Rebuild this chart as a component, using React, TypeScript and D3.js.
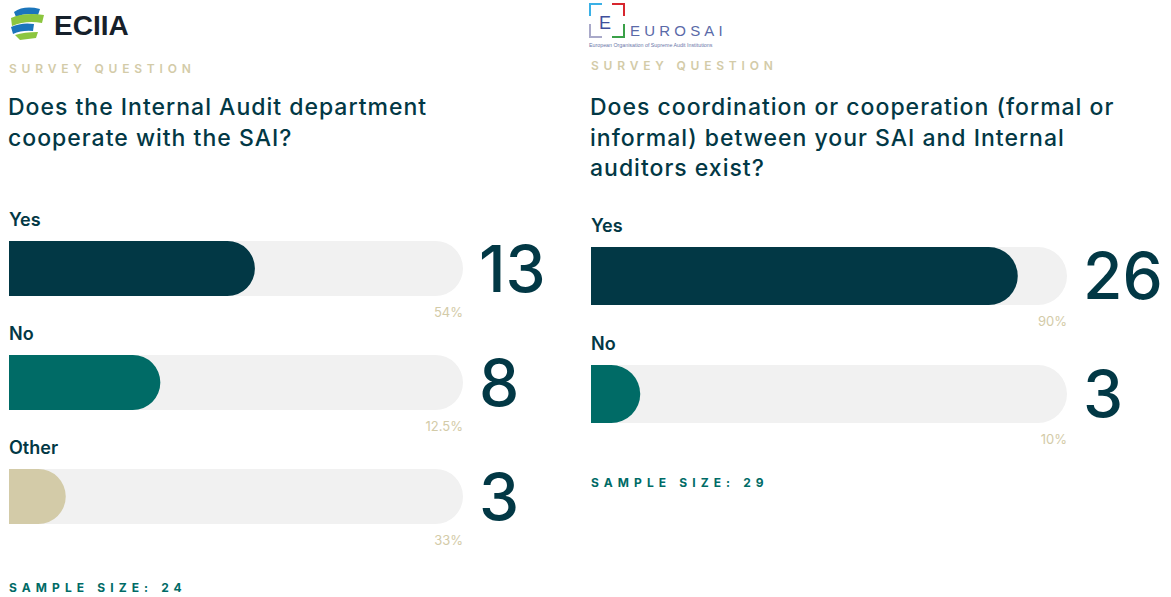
import * as d3 from "d3";

// left panel (ECIIA)
const eciiaCategories = ["Yes", "No", "Other"];
const eciiaCounts = [13, 8, 3];
const eciiaPctLabels = ["54%", "12.5%", "33%"];
const eciiaSample = 24;
const eciiaTitle = ["Does the Internal Audit department", "cooperate with the SAI?"];

// right panel (EUROSAI)
const eurosaiCategories = ["Yes", "No"];
const eurosaiCounts = [26, 3];
const eurosaiPctLabels = ["90%", "10%"];
const eurosaiSample = 29;
const eurosaiTitle = [
  "Does coordination or cooperation (formal or",
  "informal) between your SAI and Internal",
  "auditors exist?",
];

const DARK = "#023845";
const TEAL = "#006b66";
const BEIGE = "#d3cba8";
const TRACK = "#f1f1f1";
const barColors = [DARK, TEAL, BEIGE];
const FONT = "Inter, 'Noto Sans', sans-serif";

function barPath(x0: number, x1: number, y: number, h: number) {
  const r = h / 2;
  const xr = Math.max(x0, x1 - r);
  return `M${x0},${y}L${xr},${y}A${r},${r} 0 0 1 ${xr},${y + h}L${x0},${y + h}Z`;
}

interface PanelProps {
  left: number;
  right: number;
  titleY: number;
  titleLines: string[];
  surveyY: number;
  firstLabelY: number;
  rowStep: number;
  barH: number;
  categories: string[];
  counts: number[];
  pcts: string[];
  sample: number;
  sampleY: number;
}

function Panel(p: PanelProps) {
  const x = d3.scaleLinear().domain([0, p.sample]).range([p.left, p.right]);
  const rows = d3
    .scaleBand<string>()
    .domain(p.categories)
    .range([p.firstLabelY, p.firstLabelY + p.rowStep * p.categories.length])
    .padding(0);
  return (
    <g>
      <text x={p.left} y={p.surveyY} fontFamily={FONT} fontSize={12} fontWeight={600}
        letterSpacing={4.8} fill={BEIGE}>SURVEY QUESTION</text>
      {p.titleLines.map((t, i) => (
        <text key={t} x={p.left - 1} y={p.titleY + i * 30.5} fontFamily={FONT} fontSize={23}
          fontWeight={500} letterSpacing={1} fill={DARK}>{t}</text>
      ))}
      {p.categories.map((c, i) => {
        const y0 = rows(c)!;
        const barY = y0 + 21;
        return (
          <g key={c}>
            <text x={p.left} y={y0 + 6} fontFamily={FONT} fontSize={18} fontWeight={600} fill={DARK}>{c}</text>
            <path d={barPath(x(0), x(p.sample), barY, p.barH)} fill={TRACK} />
            <path d={barPath(x(0), x(p.counts[i]), barY, p.barH)} fill={barColors[i]} />
            <text x={x(p.sample)} y={barY + p.barH + 21} textAnchor="end" fontFamily={FONT}
              fontSize={13} fill={BEIGE}>{p.pcts[i]}</text>
            <text x={x(p.sample) + 16} y={barY + p.barH / 2 + 23} fontFamily={FONT} fontSize={64}
              fontWeight={500} fill={DARK}>{p.counts[i]}</text>
          </g>
        );
      })}
      <text x={p.left} y={p.sampleY} fontFamily={FONT} fontSize={12} fontWeight={700}
        letterSpacing={5.1} fill={TEAL}>{`SAMPLE SIZE: ${p.sample}`}</text>
    </g>
  );
}

function EciiaLogo() {
  return (
    <g>
      <path d="M14,12 Q24,5 40,9 L38,15 Q26,12 16,17 Z" fill="#1b75bb" />
      <path d="M11,18 Q24,12 44,15 L42,23 Q26,20 12,26 Z" fill="#8cc63f" />
      <path d="M11,27 Q22,22 34,24 L33,31 Q22,30 13,34 Z" fill="#1b75bb" />
      <path d="M15,35 Q24,32 38,32 L36,38 Q28,39 20,40 Z" fill="#8cc63f" />
      <text x={54} y={35} fontFamily="'Liberation Sans', Arial, sans-serif" fontSize={28}
        fontWeight={700} fill="#16202a">ECIIA</text>
    </g>
  );
}

function EurosaiLogo() {
  return (
    <g>
      <path d="M590,16 L590,4 L602,4" fill="none" stroke="#3ab0e6" strokeWidth={2} />
      <path d="M612,4 L624,4 L624,16" fill="none" stroke="#d7262e" strokeWidth={2} />
      <path d="M590,24 L590,37 L602,37" fill="none" stroke="#a9a9c9" strokeWidth={2} />
      <path d="M612,37 L624,37 L624,24" fill="none" stroke="#3aa048" strokeWidth={2} />
      <text x={599} y={29} fontFamily="'Liberation Sans', sans-serif" fontSize={18} fill="#3f4f9c">E</text>
      <text x={630} y={36} fontFamily="'Liberation Sans', sans-serif" fontSize={15} letterSpacing={4.2}
        fill="#5a6aa8">EUROSAI</text>
      <text x={589} y={47} fontFamily="'Liberation Sans', sans-serif" fontSize={5.3} fill="#6a76a8">
        European Organisation of Supreme Audit Institutions
      </text>
    </g>
  );
}

export default function App() {
  return (
    <svg width={1171} height={597} style={{ position: "absolute", left: 0, top: 0 }}>
      <rect width={1171} height={597} fill="#ffffff" />
      <EciiaLogo />
      <EurosaiLogo />
      <Panel left={9} right={463} titleY={115} titleLines={eciiaTitle} surveyY={73}
        firstLabelY={220} rowStep={114} barH={55} categories={eciiaCategories}
        counts={eciiaCounts} pcts={eciiaPctLabels} sample={eciiaSample} sampleY={592} />
      <Panel left={591} right={1067} titleY={115} titleLines={eurosaiTitle} surveyY={70}
        firstLabelY={226} rowStep={118} barH={58} categories={eurosaiCategories}
        counts={eurosaiCounts} pcts={eurosaiPctLabels} sample={eurosaiSample} sampleY={487} />
    </svg>
  );
}
